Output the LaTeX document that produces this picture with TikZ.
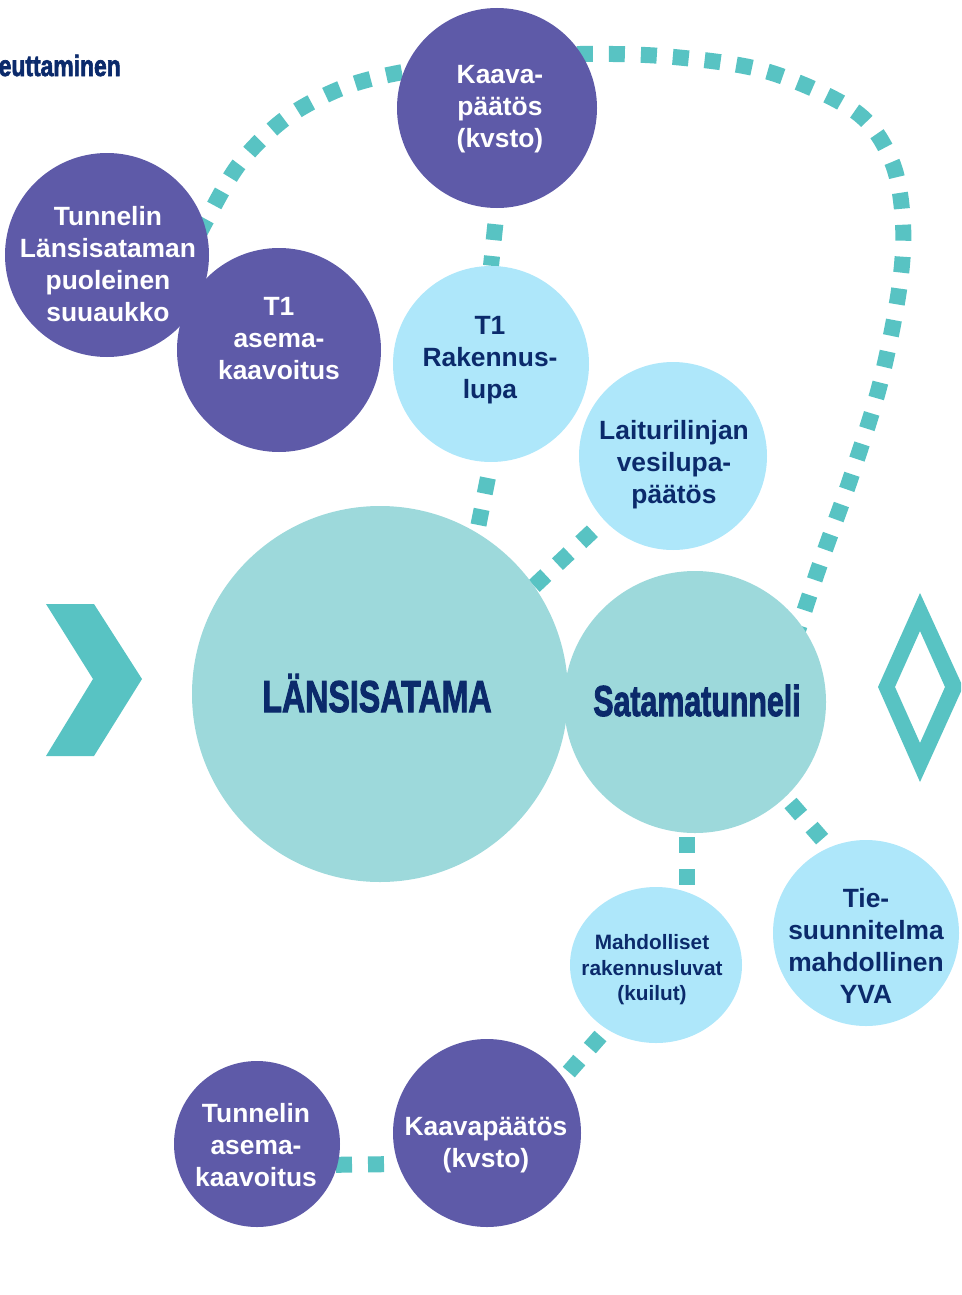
\documentclass[tikz,border=0pt]{standalone}
\usepackage{fontspec}
\setmainfont{Liberation Sans}
\usetikzlibrary{shapes.geometric}
\newfontfamily\headfont[BoldFeatures={FakeBold=2.5}]{Liberation Sans}
\definecolor{tealdot}{HTML}{58C3C3}
\definecolor{bigc}{HTML}{9DD9DB}
\definecolor{lightc}{HTML}{AEE7FA}
\definecolor{purp}{HTML}{5E5AA8}
\definecolor{navy}{HTML}{0B2A6B}
\pgfdeclarelayer{bg}
\pgfsetlayers{bg,main}
\newcommand\myfontA{\fontsize{19.8}{24}\selectfont\bfseries}
\newcommand\myfontB{\fontsize{15.6}{19.1}\selectfont\bfseries}
\tikzset{
  pc/.style={circle, fill=purp, inner sep=0pt, minimum size=#1*1.5pt},
  lc/.style={circle, fill=lightc, inner sep=0pt, minimum size=#1*1.5pt},
  bc/.style={circle, fill=bigc, inner sep=0pt, minimum size=#1*1.5pt},
  le/.style={ellipse, fill=lightc, inner sep=0pt, minimum width=129pt, minimum height=117pt},
  wt/.style={align=center, text=white, font=\myfontA, inner sep=0pt},
  nt/.style={align=center, text=navy, font=\myfontA, inner sep=0pt},
  dots/.style={draw=tealdot, line width=12pt, dash pattern=on 12pt off 12pt, dash phase=12pt},
}
\begin{document}
\begin{tikzpicture}[x=0.75pt,y=-0.75pt]
\useasboundingbox (0,0) rectangle (961,1295);
\clip (0,0) rectangle (961,1295);

% circles
\node[pc=100] (kaava) at (497,108) {};
\node[pc=102] (tls) at (107,255) {};
\node[pc=102] (t1a) at (279,350) {};
\node[lc=98] (t1r) at (491,364) {};
\node[lc=94] (lait) at (673,456) {};
\node[bc=188] (lans) at (380,694) {};
\node[bc=131] (sata) at (695,702) {};
\node[le] (mahd) at (656,965) {};
\node[lc=93] (tie) at (866,933) {};
\node[pc=94] (kvb) at (487,1133) {};
\node[pc=83] (tas) at (257,1144) {};

% connector coordinates
\coordinate (loopstart) at (192,248);
\coordinate (loopend) at (785,670);
\coordinate (s5a) at (687,821);
\coordinate (s5b) at (687,900);
\coordinate (s6a) at (780,791);
\coordinate (s6b) at (843,863);
\coordinate (s7a) at (611,1024);
\coordinate (s7b) at (553,1090);
\coordinate (s8a) at (400,1164);
\coordinate (s8b) at (320,1165);

\begin{pgfonlayer}{bg}
\draw[dots] plot[smooth, tension=0.55] coordinates {(loopstart) (208,217) (240,163) (286,118) (342,88) (403,72) (490,60) (580,54) (674,57) (769,72) (856,112) (892,162) (903,224) (899,290) (880,384) (851,477) (819,567) (loopend)};
\draw[dots] (kaava.south) -- (t1r.north);
\draw[dots] (t1r.south) -- (lans.59);
\draw[dots] (lait.223) -- (lans.35);
\draw[dots] (s5a) -- (s5b);
\draw[dots] (s6a) -- (s6b);
\draw[dots] (s7a) -- (s7b);
\draw[dots] (s8a) -- (s8b);
\end{pgfonlayer}

% chevron and diamond
\fill[tealdot] (46,604) -- (94,604) -- (142,679) -- (94,756) -- (46,756) -- (93,679) -- cycle;
\fill[tealdot, even odd rule] (920,593) -- (878,687) -- (920,782) -- (963,687) -- cycle
  (920,631) -- (895,687) -- (920,743) -- (945,687) -- cycle;

% texts
\node[anchor=base east, text=navy, inner sep=0pt] (head) at (121,76)
  {\scalebox{0.78}[1]{\fontsize{22}{26}\selectfont\headfont\bfseries euttaminen}};
\node[wt] (kaava-t) at (500,109) {Kaava-\\päätös\\(kvsto)};
\node[wt] (tls-t) at (108,264) {Tunnelin\\Länsisataman\\puoleinen\\suuaukko};
\node[wt] (t1a-t) at (279,339) {T1\\asema-\\kaavoitus};
\node[nt] (t1r-t) at (490,360) {T1\\Rakennus-\\lupa};
\node[nt] (lait-t) at (674,465) {Laiturilinjan\\vesilupa-\\päätös};
\node[anchor=base, text=navy, inner sep=0pt] (lans-t) at (377,712)
  {\scalebox{0.72}[1]{\fontsize{33.5}{38}\selectfont\headfont\bfseries LÄNSISATAMA}};
\node[anchor=base, text=navy, inner sep=0pt] (sata-t) at (697,716)
  {\scalebox{0.7}[1]{\fontsize{32.5}{38}\selectfont\headfont\bfseries Satamatunneli}};
\node[nt, font=\myfontB] (mahd-t) at (652,970) {Mahdolliset\\rakennusluvat\\(kuilut)};
\node[nt] (tie-t) at (866,946) {Tie-\\suunnitelma\\mahdollinen\\YVA};
\node[wt] (kvb-t) at (486,1145) {Kaavapäätös\\(kvsto)};
\node[wt] (tas-t) at (256,1145) {Tunnelin\\asema-\\kaavoitus};
\end{tikzpicture}
\end{document}
